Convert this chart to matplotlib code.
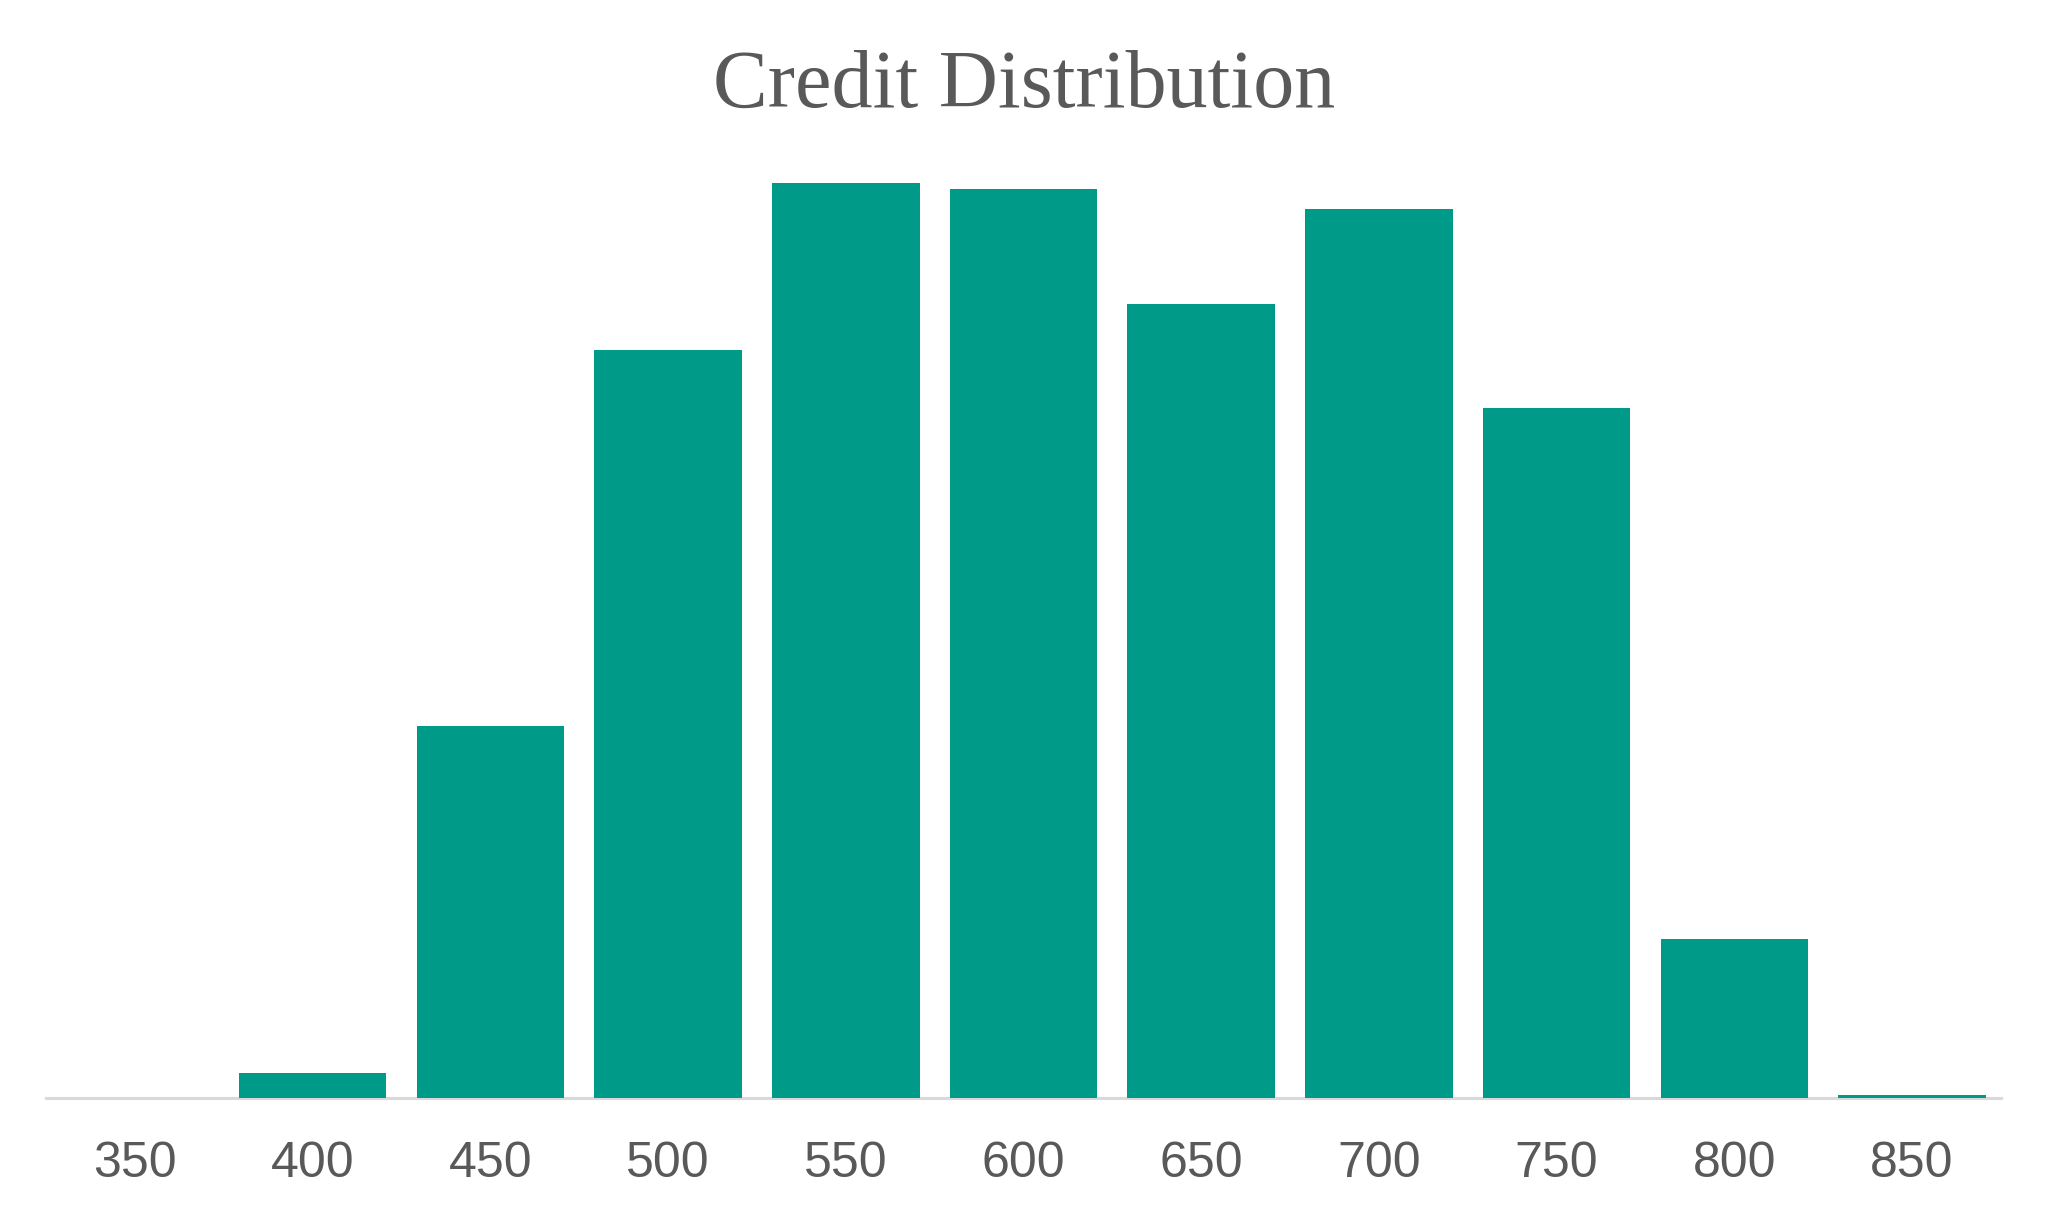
import matplotlib
matplotlib.use("Agg")
from matplotlib import pyplot as plt

# credit score buckets and counts
scores = ["350", "400", "450", "500", "550", "600", "650", "700", "750", "800", "850"]
counts = [0, 25, 372, 748, 915, 909, 794, 889, 690, 159, 3]

bar_color = "#009A88"
text_color = "#595959"

fig = plt.figure(figsize=(20.48, 12.16), dpi=100)
ax = fig.add_axes([0.0225, 0.097, 0.9545, 0.78])

x = list(range(len(scores)))
ax.bar(x, counts, width=0.83, color=bar_color, zorder=2)

ax.set_xlim(-0.5, len(scores) - 0.5)
ax.set_ylim(0, 948)
ax.set_xticks(x)
ax.set_xticklabels(scores, fontsize=36, color=text_color, family="Liberation Sans")
ax.tick_params(axis="x", length=0, pad=31)
ax.set_yticks([])

for side in ["top", "right", "left"]:
    ax.spines[side].set_visible(False)
ax.spines["bottom"].set_color("#d9d9d9")
ax.spines["bottom"].set_linewidth(2.2)
ax.spines["bottom"].set_zorder(1)

fig.text(0.5, 0.912, "Credit Distribution", ha="center", va="baseline",
         fontsize=59, color=text_color, family="Liberation Serif")

fig.savefig("out.png", dpi=100, facecolor="white")
